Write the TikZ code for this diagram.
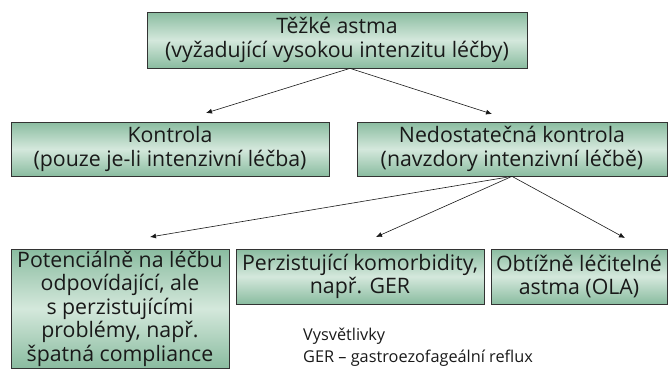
\documentclass[tikz,border=0pt]{standalone}
\usepackage{fontspec}
\setmainfont{Open Sans}
\usetikzlibrary{arrows.meta,shadows}
\definecolor{boxedge}{RGB}{138,188,160}
\definecolor{boxmid}{RGB}{212,232,220}
\definecolor{txt}{RGB}{25,25,25}
\tikzset{
  gbox/.style={draw=black!80, line width=0.7pt, top color=boxedge, bottom color=boxedge, middle color=boxmid,
    drop shadow={shadow xshift=1.2pt, shadow yshift=-1.2pt, opacity=0.7, fill=black!70},
    align=center, inner sep=0pt, text=txt, font=\fontsize{21.3}{23.5}\selectfont},
  arr/.style={-{Latex[length=6pt,width=5pt]}, line width=0.6pt, black!90},
  legend/.style={anchor=west, inner sep=0pt, text=txt, font=\fontsize{16.3}{20}\selectfont, align=left}
}
\begin{document}
\begin{tikzpicture}[x=1pt,y=-1pt]
\useasboundingbox (0,0) rectangle (669,370);
\node[gbox, minimum width=380pt, minimum height=56pt] (top) at (337,40) {Těžké astma\\(vyžadující vysokou intenzitu léčby)};
\node[gbox, minimum width=318pt, minimum height=54pt] (kon) at (170,149) {Kontrola\\(pouze je-li intenzivní léčba)};
\node[gbox, minimum width=310pt, minimum height=54pt] (ned) at (512,149) {Nedostatečná kontrola\\(navzdory intenzivní léčbě)};
\node[gbox, minimum width=218pt, minimum height=119pt] (pot) at (120,308.5) {Potenciálně na léčbu\\odpovídající, ale\\s perzistujícími\\problémy, např.\\špatná compliance};
\node[gbox, minimum width=248pt, minimum height=55pt] (per) at (360,276.5) {Perzistující komorbidity,\\např. GER};
\node[gbox, minimum width=176pt, minimum height=55pt] (obt) at (579,276.5) {Obtížně léčitelné\\astma (OLA)};
\coordinate (t1) at (206,113);
\coordinate (t2) at (492,114);
\coordinate (n1) at (150,237);
\coordinate (n2) at (376,237);
\coordinate (n3) at (625,238);
\coordinate (o1) at ([xshift=13pt]top.south);
\draw[arr] (o1) -- (t1);
\draw[arr] (o1) -- (t2);
\draw[arr] (ned.south) -- (n1);
\draw[arr] (ned.south) -- (n2);
\draw[arr] (ned.south) -- (n3);
\node[legend] (leg) at (303,336) {Vysvětlivky};
\node[legend] (leg2) at (303,358) {GER – gastroezofageální reflux};
\end{tikzpicture}
\end{document}
